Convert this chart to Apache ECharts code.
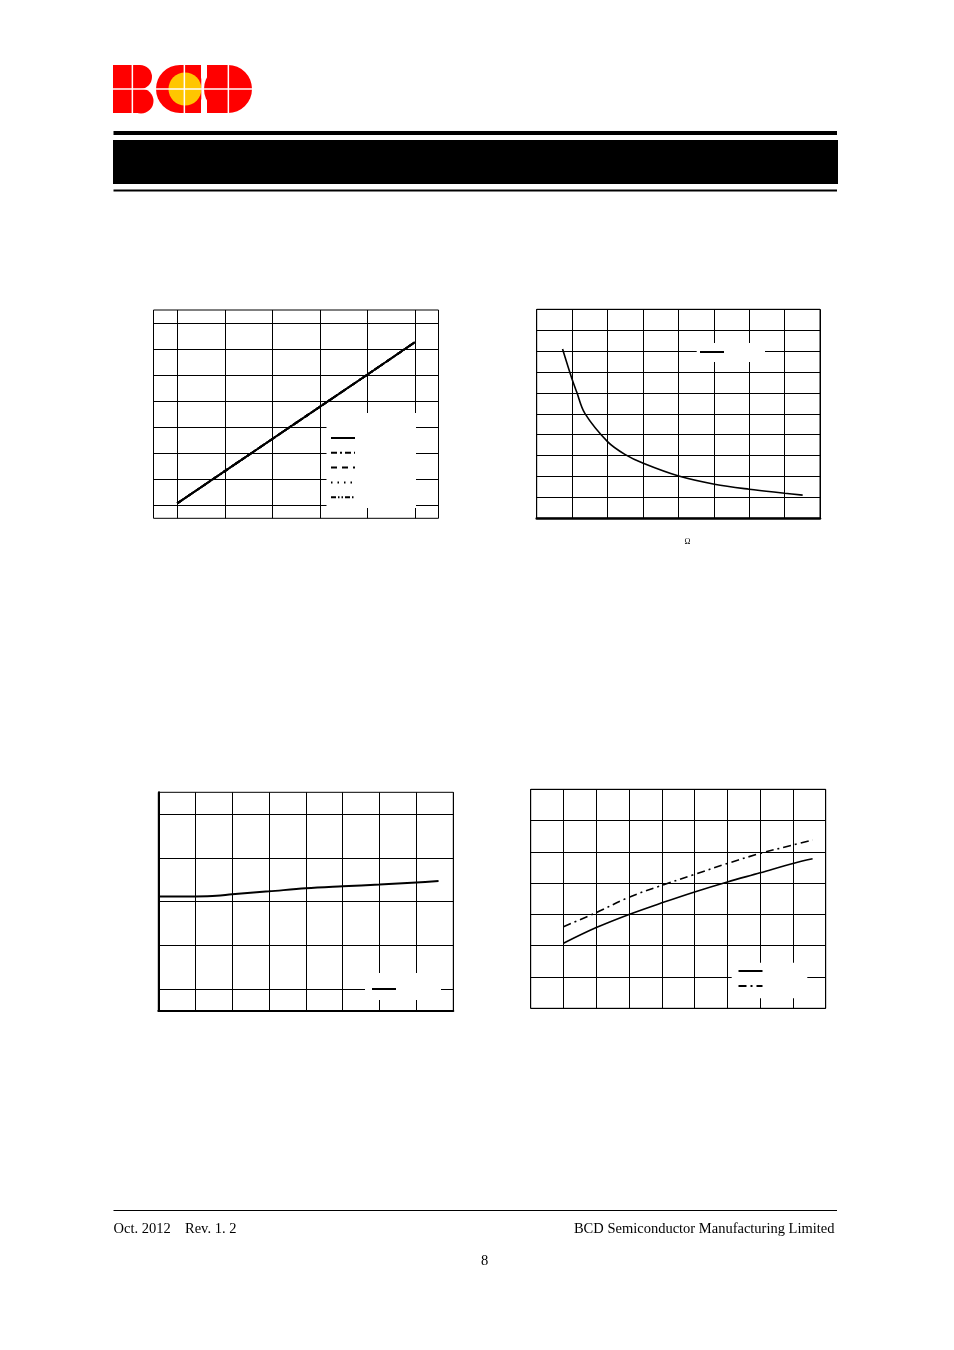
<!DOCTYPE html>
<html>
<head>
<meta charset="utf-8">
<script src="https://cdn.jsdelivr.net/npm/echarts@6/dist/echarts.min.js"></script>
<style>
html,body{margin:0;padding:0;background:#fff;}
#c{width:954px;height:1350px;}
</style>
</head>
<body>
<div id="c"></div>
<script>
// ---- Chart 1 (top-left): five overlapping curves ----
const c1X = [1, 3, 5, 7, 9, 11];
const c1Y = [1.15, 3.62, 6.09, 8.56, 11.03, 13.52];
const c1Names = ['Curve A', 'Curve B', 'Curve C', 'Curve D', 'Curve E'];

// ---- Chart 2 (top-right): decaying curve ----
const c2X = [0.73, 0.99, 1.13, 1.36, 2.0, 2.49, 3.01, 4.01, 5.02, 6.0, 7.01, 7.51];
const c2Y = [8.1, 6.7, 6.04, 5.02, 3.67, 3.06, 2.63, 2.02, 1.63, 1.39, 1.20, 1.11];
const c2Names = ['Curve F'];

// ---- Chart 3 (bottom-left): nearly flat curve ----
const c3X = [0, 1, 1.58, 2, 3, 4, 5, 6, 7, 7.6];
const c3Y = [5.23, 5.24, 5.27, 5.34, 5.47, 5.61, 5.70, 5.78, 5.88, 5.94];
const c3Names = ['Curve G'];

// ---- Chart 4 (bottom-right): two rising curves ----
const c4X = [1, 2, 3, 4, 5, 6, 7, 8, 8.6];
const c4Solid = [2.08, 2.58, 3.0, 3.37, 3.72, 4.04, 4.33, 4.63, 4.78];
const c4DashDot = [2.61, 3.06, 3.55, 3.93, 4.28, 4.63, 4.95, 5.22, 5.38];
const c4Names = ['Curve H', 'Curve I'];

function pairs(xs, ys) { return xs.map((x, i) => [x, ys[i]]); }

const BLACK = '#000';
function axis(gridIndex, min, max, interval, opts) {
  opts = opts || {};
  return {
    type: 'value', gridIndex: gridIndex, min: min, max: max, interval: interval,
    axisLabel: {show: false}, axisTick: {show: false},
    axisLine: {show: !!opts.lineWidth, onZero: false, lineStyle: {color: BLACK, width: opts.lineWidth || 1}},
    splitLine: {show: !opts.minor, lineStyle: {color: BLACK, width: 1}},
    minorTick: {show: false, splitNumber: 2},
    minorSplitLine: {show: !!opts.minor, lineStyle: {color: BLACK, width: 1}}
  };
}
function gridBox(left, top, width, height) {
  return {left: left, top: top, width: width, height: height, show: true,
    borderColor: BLACK, borderWidth: 1, backgroundColor: 'transparent', containLabel: false};
}
function lineSeries(name, xi, data, type, width, z) {
  return {name: name, type: 'line', xAxisIndex: xi, yAxisIndex: xi, data: data,
    symbol: 'none', smooth: 0.35, animation: false, z: z || 2, color: BLACK,
    itemStyle: {color: BLACK},
    lineStyle: {color: BLACK, width: width, type: type}};
}
function legendAt(names, left, top, gap) {
  return {data: names, left: left, top: top, orient: 'vertical', itemWidth: 24, itemHeight: 14,
    itemGap: gap || 2, padding: 0, selectedMode: false, formatter: () => '',
    itemStyle: {color: 'rgba(0,0,0,0)', borderWidth: 0, opacity: 0},
    lineStyle: {width: 2},
    textStyle: {fontSize: 1, color: '#fff'}, z: 5};
}
function whiteBox(x, y, w, h) {
  return {type: 'rect', z: 1, shape: {x: x, y: y, width: w, height: h}, style: {fill: '#fff'}};
}
function r(x, y, w, h, fill, z) {
  return {type: 'rect', z: z || 3, shape: {x: x, y: y, width: w, height: h}, style: {fill: fill}};
}
function circ(cx, cy, rad, fill, z) {
  return {type: 'circle', z: z || 3, shape: {cx: cx, cy: cy, r: rad}, style: {fill: fill}};
}
function txt(x, y, text, size, align) {
  return {type: 'text', z: 3, x: x, y: y, style: {text: text,
    font: size + 'px "Liberation Serif", "DejaVu Serif", serif', fill: '#000',
    textAlign: align, align: align, textVerticalAlign: 'middle', verticalAlign: 'middle'}};
}

const c1Types = ['solid', [6, 3, 2, 3], [6, 5], [1.5, 5], [5, 2, 1.5, 2, 1.5, 2]];
const RED = '#ff0000';

const option = {
  animation: false,
  backgroundColor: '#fff',
  color: [BLACK],
  grid: [
    gridBox(153.5, 310, 285, 208.3),
    gridBox(536.7, 309.3, 283.3, 209),
    gridBox(158.3, 792.3, 295, 218.7),
    gridBox(530.7, 789.3, 295, 219)
  ],
  xAxis: [
    axis(0, 0, 12, 2, {minor: true}),
    axis(1, 0, 8, 1, {lineWidth: 2.5}),
    axis(2, 0, 8, 1, {lineWidth: 2}),
    axis(3, 0, 9, 1)
  ],
  yAxis: [
    axis(0, 0, 16, 2, {minor: true}),
    axis(1, 0, 10, 1),
    axis(2, 0, 10, 2, {minor: true, lineWidth: 2}),
    axis(3, 0, 7, 1)
  ],
  legend: [
    legendAt(c1Names, 330, 431, 2.2),
    legendAt(c2Names, 699, 345),
    legendAt(c3Names, 371, 982),
    legendAt(c4Names, 737.5, 964, 2.3)
  ],
  series: [
    lineSeries(c1Names[0], 0, pairs(c1X, c1Y), c1Types[0], 2, 3),
    lineSeries(c1Names[1], 0, pairs(c1X, c1Y), c1Types[1], 2, 2),
    lineSeries(c1Names[2], 0, pairs(c1X, c1Y), c1Types[2], 2, 2),
    lineSeries(c1Names[3], 0, pairs(c1X, c1Y), c1Types[3], 2, 2),
    lineSeries(c1Names[4], 0, pairs(c1X, c1Y), c1Types[4], 2, 2),
    lineSeries(c2Names[0], 1, pairs(c2X, c2Y), 'solid', 1.6),
    lineSeries(c3Names[0], 2, pairs(c3X, c3Y), 'solid', 2),
    lineSeries(c4Names[0], 3, pairs(c4X, c4Solid), 'solid', 1.6),
    lineSeries(c4Names[1], 3, pairs(c4X, c4DashDot), [8, 4, 2, 4], 1.6)
  ],
  graphic: [
    // legend white boxes
    whiteBox(326.5, 413, 89.5, 95),
    whiteBox(696.7, 343, 68.3, 19),
    whiteBox(365, 973, 76, 27),
    whiteBox(731.7, 962.7, 75.6, 35.6),
    // logo: B
    r(113, 65, 27, 48, RED),
    circ(140, 77, 12, RED),
    circ(141, 101, 12.5, RED),
    // logo: C
    circ(180, 89, 24, RED),
    r(180, 65, 21, 48, RED),
    circ(185, 89, 16.5, '#ffc600'),
    r(201.3, 62, 5.4, 54, '#fff'),
    // logo: D
    r(207, 65, 21, 48, RED),
    circ(228, 89, 24, RED),
    // logo white lines
    r(131.6, 63, 1.5, 52, '#fff', 4),
    r(183.6, 63, 1.5, 52, '#fff', 4),
    r(227.6, 63, 1.5, 52, '#fff', 4),
    r(111, 88.3, 145, 1.5, '#fff', 4),
    // header bars
    r(113.5, 131, 723.5, 4, '#000'),
    r(113, 140, 725, 44, '#000'),
    r(113.5, 189.5, 723.5, 2, '#000'),
    // footer
    r(113.5, 1210, 723.5, 1, '#000'),
    txt(113.5, 1229, 'Oct. 2012', 14.5, 'left'),
    txt(185, 1229, 'Rev. 1. 2', 14.5, 'left'),
    txt(834.5, 1229, 'BCD Semiconductor Manufacturing Limited', 14.5, 'right'),
    txt(484.5, 1261, '8', 14.5, 'center'),
    txt(687.5, 542, 'Ω', 8, 'center')
  ]
};

const chart = echarts.init(document.getElementById('c'), null, {renderer: 'canvas'});
chart.setOption(option);
</script>
</body>
</html>
